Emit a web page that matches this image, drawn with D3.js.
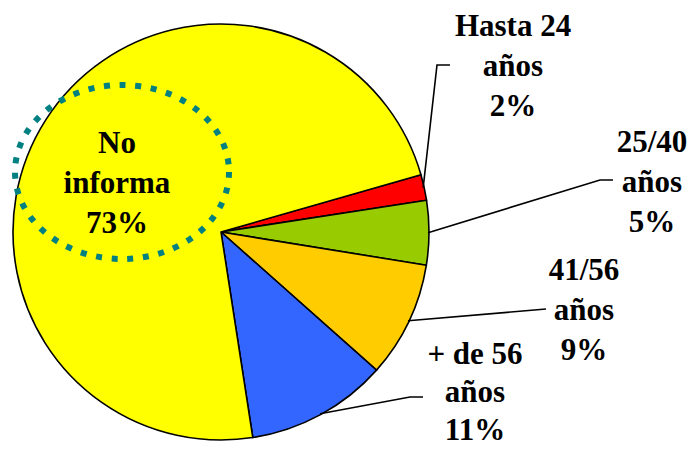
<!DOCTYPE html>
<html lang="es">
<head>
    <meta charset="UTF-8">
    <title>Edad</title>
    <style>
        body { margin: 0; background: #fff; }
        svg { display: block; }
    </style>
    <script src="https://d3js.org/d3.v7.min.js"></script>
</head>
<body>
    <div id="svg"></div>
    <script>
        const categories = ["Hasta 24 años", "25/40 años", "41/56 años", "+ de 56 años", "No informa"]
        const values = [2, 5, 9, 11, 73]
        const labelLines = [["Hasta 24", "años", "2%"], ["25/40", "años", "5%"], ["41/56", "años", "9%"], ["+ de 56", "años", "11%"], ["No", "informa", "73%"]]
        const colors = ["#ff0000", "#99cc00", "#ffcc00", "#3366ff", "#ffff00"]

        const boxWidth = 692, boxHeight = 449
        const cx = 221, cy = 232, radius = 208

        // label layout: text centre x, first baseline y, line gap, leader elbow points
        const labelPos = [
            { x: 513, y: 36, gap: 40, leader: [[437, 65], [450, 65]] },
            { x: 652, y: 152, gap: 40, leader: [[600, 180], [613, 180]] },
            { x: 584, y: 280, gap: 40, leader: [[546, 309]] },
            { x: 475, y: 364, gap: 38, leader: [[410, 397], [423, 397]] },
            { x: 117, y: 153, gap: 40, leader: null }
        ]

        const svg = d3.select("#svg").append("svg").attr("width", boxWidth).attr("height", boxHeight)
        const g = svg.append("g").attr("transform", `translate(${cx}, ${cy})`)

        const start = 74 * Math.PI / 180
        const pie = d3.pie().sort(null).startAngle(start).endAngle(start + 2 * Math.PI)
        const arcs = pie(values)
        const arc = d3.arc().innerRadius(0).outerRadius(radius)

        g.selectAll("path.slice").data(arcs).enter().append("path")
            .attr("class", "slice")
            .attr("d", arc)
            .attr("fill", (d, i) => colors[i])
            .attr("stroke", "#000")
            .attr("stroke-width", 1.6)
            .attr("stroke-linejoin", "round")

        // dotted ellipse highlight
        svg.append("ellipse")
            .attr("cx", 122).attr("cy", 172).attr("rx", 107).attr("ry", 87)
            .attr("fill", "none")
            .attr("stroke", "#008080")
            .attr("stroke-width", 6)
            .attr("stroke-dasharray", "6,9.7")

        // leaders
        arcs.forEach((d, i) => {
            const lp = labelPos[i]
            if (!lp.leader) return
            const mid = (d.startAngle + d.endAngle) / 2
            const p0 = [cx + Math.sin(mid) * (radius - 1), cy - Math.cos(mid) * (radius - 1)]
            svg.append("polyline")
                .attr("points", [p0].concat(lp.leader).map(p => p.join(",")).join(" "))
                .attr("fill", "none")
                .attr("stroke", "#000")
                .attr("stroke-width", 1.6)
        })

        // labels
        labelLines.forEach((lines, i) => {
            const lp = labelPos[i]
            const t = svg.append("text")
                .attr("text-anchor", "middle")
                .attr("font-family", "'Liberation Serif', 'DejaVu Serif', serif")
                .attr("font-weight", "bold")
                .attr("font-size", 31)
                .attr("fill", "#000")
            lines.forEach((line, j) => {
                t.append("tspan").attr("x", lp.x).attr("y", lp.y + j * lp.gap).text(line)
            })
        })
    </script>
</body>
</html>
